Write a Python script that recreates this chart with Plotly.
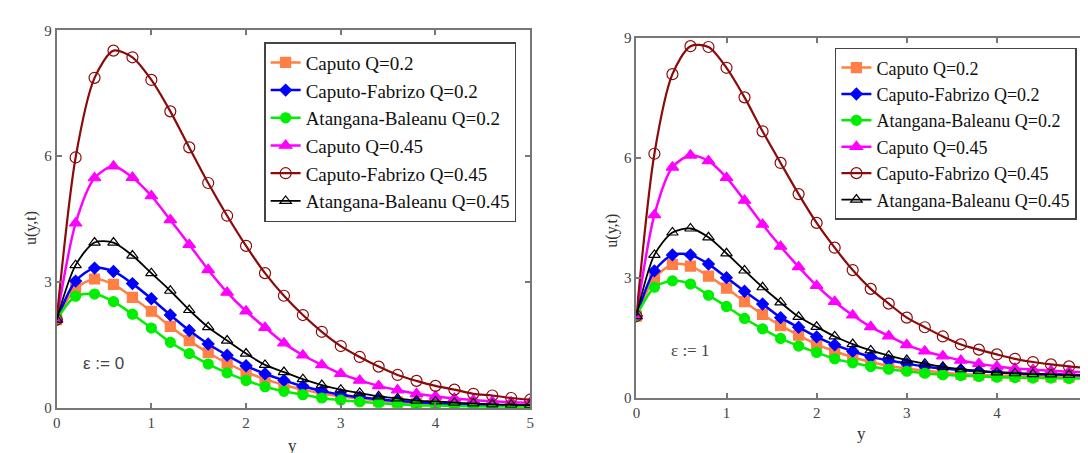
import plotly.graph_objects as go

# ---------------- data ----------------
y_pos = [0.0, 0.2, 0.4, 0.6, 0.8, 1.0, 1.2, 1.4, 1.6, 1.8, 2.0, 2.2, 2.4,
         2.6, 2.8, 3.0, 3.2, 3.4, 3.6, 3.8, 4.0, 4.2, 4.4, 4.6, 4.8, 5.0]

series_names = ["Caputo Q=0.2", "Caputo-Fabrizo Q=0.2", "Atangana-Baleanu Q=0.2",
                "Caputo Q=0.45", "Caputo-Fabrizo Q=0.45", "Atangana-Baleanu Q=0.45"]

# epsilon = 0 (left panel)
cap02_e0 = [2.1, 2.84, 3.07, 2.94, 2.63, 2.30, 1.94, 1.60, 1.31, 1.06, 0.85, 0.68, 0.54,
            0.43, 0.34, 0.27, 0.21, 0.17, 0.13, 0.11, 0.09, 0.07, 0.06, 0.05, 0.04, 0.03]
cf02_e0 = [2.1, 3.02, 3.33, 3.25, 2.96, 2.60, 2.21, 1.84, 1.52, 1.25, 1.00, 0.81, 0.65,
           0.51, 0.40, 0.31, 0.25, 0.20, 0.16, 0.13, 0.10, 0.08, 0.07, 0.06, 0.05, 0.04]
ab02_e0 = [2.1, 2.66, 2.71, 2.53, 2.23, 1.90, 1.56, 1.29, 1.04, 0.83, 0.65, 0.50, 0.39,
           0.31, 0.23, 0.18, 0.14, 0.11, 0.08, 0.06, 0.05, 0.04, 0.03, 0.02, 0.02, 0.01]
cap045_e0 = [2.1, 4.40, 5.48, 5.76, 5.49, 5.05, 4.48, 3.89, 3.29, 2.75, 2.30, 1.91, 1.54,
             1.25, 1.02, 0.81, 0.65, 0.52, 0.42, 0.33, 0.27, 0.22, 0.18, 0.15, 0.13, 0.12]
cf045_e0 = [2.1, 5.97, 7.87, 8.52, 8.36, 7.82, 7.07, 6.21, 5.36, 4.58, 3.86, 3.21, 2.67,
            2.21, 1.81, 1.47, 1.21, 0.98, 0.78, 0.64, 0.52, 0.43, 0.33, 0.29, 0.23, 0.19]
ab045_e0 = [2.1, 3.40, 3.94, 3.94, 3.63, 3.21, 2.79, 2.33, 1.92, 1.60, 1.29, 1.02, 0.85,
            0.68, 0.54, 0.43, 0.35, 0.27, 0.22, 0.17, 0.15, 0.12, 0.10, 0.08, 0.07, 0.06]

# epsilon = 1 (right panel)
cap02_e1 = [2.05, 2.99, 3.34, 3.30, 3.05, 2.75, 2.41, 2.09, 1.81, 1.57, 1.34, 1.17, 1.02,
            0.90, 0.80, 0.74, 0.68, 0.64, 0.60, 0.58, 0.56, 0.55, 0.54, 0.53, 0.53, 0.52]
cf02_e1 = [2.05, 3.18, 3.58, 3.58, 3.35, 3.01, 2.67, 2.35, 2.01, 1.77, 1.53, 1.33, 1.17,
           1.03, 0.94, 0.86, 0.79, 0.74, 0.70, 0.67, 0.64, 0.62, 0.60, 0.59, 0.58, 0.56]
ab02_e1 = [2.05, 2.77, 2.93, 2.85, 2.57, 2.29, 1.99, 1.73, 1.49, 1.30, 1.14, 0.98, 0.88,
           0.79, 0.72, 0.67, 0.62, 0.58, 0.56, 0.54, 0.52, 0.51, 0.50, 0.50, 0.49, 0.49]
cap045_e1 = [2.05, 4.58, 5.77, 6.07, 5.93, 5.51, 4.94, 4.34, 3.79, 3.28, 2.81, 2.41, 2.07,
             1.78, 1.55, 1.33, 1.17, 1.05, 0.94, 0.86, 0.79, 0.74, 0.71, 0.68, 0.66, 0.64]
cf045_e1 = [2.05, 6.11, 8.10, 8.80, 8.78, 8.26, 7.52, 6.67, 5.88, 5.10, 4.38, 3.76, 3.20,
            2.73, 2.36, 2.01, 1.77, 1.54, 1.34, 1.21, 1.09, 0.98, 0.90, 0.84, 0.79, 0.75]
ab045_e1 = [2.05, 3.58, 4.14, 4.24, 4.02, 3.62, 3.19, 2.77, 2.39, 2.03, 1.78, 1.54, 1.35,
            1.19, 1.06, 0.95, 0.86, 0.78, 0.72, 0.68, 0.64, 0.62, 0.60, 0.59, 0.58, 0.56]

x_ticks = [0, 1, 2, 3, 4, 5]
y_ticks = [0, 3, 6, 9]

# ---------------- styles ----------------
styles = [
    dict(color="#ff7f45", symbol="square", size=10, width=2.5),
    dict(color="#0000ff", symbol="diamond", size=9, width=2.5),
    dict(color="#00ee00", symbol="circle", size=10, width=2.5),
    dict(color="#ff00ff", symbol="triangle-up", size=11, width=2.5),
    dict(color="#8b0a0a", symbol="circle-open", size=11, width=2.2),
    dict(color="#000000", symbol="triangle-up-open", size=10, width=1.8),
]

panel_data = [
    ([cap02_e0, cf02_e0, ab02_e0, cap045_e0, cf045_e0, ab045_e0], "x", "y", "legend"),
    ([cap02_e1, cf02_e1, ab02_e1, cap045_e1, cf045_e1, ab045_e1], "x2", "y2", "legend2"),
]

fig = go.Figure()
for data_list, xa, ya, lg in panel_data:
    for name, vals, st in zip(series_names, data_list, styles):
        fig.add_trace(go.Scatter(
            x=y_pos, y=vals, name=name, mode="lines+markers",
            xaxis=xa, yaxis=ya, legend=lg,
            line=dict(color=st["color"], width=st["width"], shape="spline", smoothing=0.8),
            marker=dict(symbol=st["symbol"], size=st["size"], color=st["color"],
                        line=dict(color=st["color"], width=1.2)),
        ))

W, H = 1088, 453
def px_x(p): return p / W
def px_y(p): return 1 - p / H

axis_common = dict(
    showgrid=False, zeroline=False, showline=True, linecolor="#777777", linewidth=2,
    mirror="ticks", ticks="inside", ticklen=5, tickcolor="#777777", tickwidth=1.5,
    tickfont=dict(family="Liberation Serif", size=15, color="#444444"),
)

title_font = dict(family="Liberation Serif", size=16, color="#333333")

fig.update_layout(
    width=W, height=H, autosize=False,
    margin=dict(l=0, r=0, t=0, b=0),
    paper_bgcolor="white", plot_bgcolor="white",
    xaxis=dict(domain=[px_x(45), px_x(522)], range=[0, 5], tickvals=x_ticks,
               anchor="y", **axis_common),
    yaxis=dict(domain=[px_y(406), px_y(15)], range=[0, 9], tickvals=y_ticks,
               anchor="x", **axis_common),
    xaxis2=dict(domain=[px_x(629), px_x(1083)], range=[0, 5], tickvals=x_ticks,
                anchor="y2", **axis_common),
    yaxis2=dict(domain=[px_y(396), px_y(23)], range=[0, 9], tickvals=y_ticks,
                anchor="x2", **axis_common),
    legend=dict(x=px_x(254), y=px_y(27), xanchor="left", yanchor="top",
                bgcolor="white", bordercolor="#444444", borderwidth=1.5,
                font=dict(family="Liberation Serif", size=19, color="#111111"),
                tracegroupgap=0, itemwidth=30),
    legend2=dict(x=px_x(829), y=px_y(33), xanchor="left", yanchor="top",
                 bgcolor="white", bordercolor="#444444", borderwidth=1.5,
                 font=dict(family="Liberation Serif", size=18, color="#111111"),
                 tracegroupgap=0, itemwidth=30),
    showlegend=True,
    annotations=[
        dict(text="u(y,t)", x=px_x(19), y=px_y(220), xref="paper", yref="paper",
             xanchor="center", yanchor="middle", showarrow=False, textangle=-90,
             font=title_font),
        dict(text="u(y,t)", x=px_x(605), y=px_y(223), xref="paper", yref="paper",
             xanchor="center", yanchor="middle", showarrow=False, textangle=-90,
             font=title_font),
        dict(text="y", x=px_x(283), y=px_y(445), xref="paper", yref="paper",
             xanchor="center", yanchor="middle", showarrow=False,
             font=dict(family="Liberation Serif", size=17, color="#333333")),
        dict(text="y", x=px_x(856), y=px_y(433), xref="paper", yref="paper",
             xanchor="center", yanchor="middle", showarrow=False,
             font=dict(family="Liberation Serif", size=17, color="#333333")),
        dict(text="ε := 0", x=0.49, y=1.06, xref="x", yref="y", showarrow=False,
             xanchor="center", yanchor="middle",
             font=dict(family="Liberation Sans", size=17, color="#444444")),
        dict(text="ε := 1", x=0.59, y=1.18, xref="x2", yref="y2", showarrow=False,
             xanchor="center", yanchor="middle",
             font=dict(family="Liberation Serif", size=17, color="#444444")),
    ],
)

fig.write_html("out.html")
